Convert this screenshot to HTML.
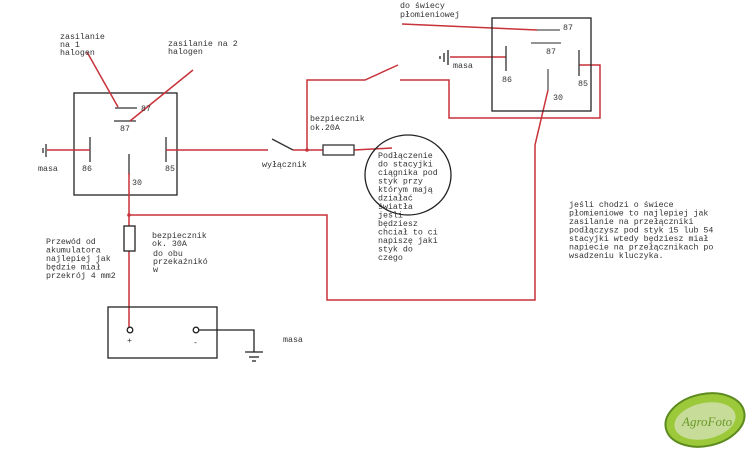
<!DOCTYPE html>
<html><head><meta charset="utf-8"><style>
html,body{margin:0;padding:0;background:#fff;width:750px;height:449px;overflow:hidden}
svg text{font-family:"Liberation Mono",monospace;font-size:8.3px;fill:#333}
</style></head><body>
<svg width="750" height="449" viewBox="0 0 750 449" xmlns="http://www.w3.org/2000/svg">
<g fill="none" stroke-width="1.3">
<!-- left relay -->
<rect x="74" y="93" width="103" height="102" stroke="#222"/>
<line x1="115" y1="108" x2="137" y2="108" stroke="#333"/>
<line x1="114" y1="121" x2="136" y2="121" stroke="#333"/>
<line x1="90" y1="137" x2="90" y2="162" stroke="#333"/>
<line x1="166" y1="137" x2="166" y2="162" stroke="#333"/>
<line x1="129" y1="154" x2="129" y2="175" stroke="#333"/>
<line x1="46" y1="144" x2="46" y2="157" stroke="#333"/>
<line x1="43" y1="148" x2="43" y2="153" stroke="#333"/>
<g stroke="#c8323a" stroke-width="1.5">
<line x1="87" y1="52" x2="118" y2="107"/>
<line x1="193" y1="70" x2="130" y2="121"/>
<line x1="47" y1="150" x2="90" y2="150"/>
<line x1="166" y1="150" x2="268" y2="150"/>
<line x1="293" y1="150" x2="323" y2="150"/>
<line x1="354" y1="150" x2="392" y2="148"/>
<polyline points="307,150 307,80 365,80 398,65"/>
<polyline points="400,80 449,80 449,118 600,118 600,65 579,65"/>
<polyline points="129,173 129,330"/>
<polyline points="129,215 327,215 327,300 535,300 535,145 548,90"/>
<line x1="402" y1="24" x2="537" y2="30"/>
<line x1="450" y1="57" x2="506" y2="57"/>
</g>
<line x1="272" y1="139" x2="293" y2="150" stroke="#333"/>
<rect x="323" y="145" width="31" height="10" stroke="#333"/>
<circle cx="307" cy="150" r="1.8" fill="#c8323a" stroke="none"/>
<circle cx="129" cy="215" r="1.8" fill="#c8323a" stroke="none"/>
<ellipse cx="408" cy="175" rx="43" ry="40" stroke="#222"/>
<!-- right relay -->
<rect x="492" y="18" width="99" height="93" stroke="#222"/>
<line x1="537" y1="30" x2="560" y2="30" stroke="#555"/>
<line x1="531" y1="43" x2="561" y2="43" stroke="#555"/>
<line x1="506" y1="46" x2="506" y2="71" stroke="#333"/>
<line x1="579" y1="50" x2="579" y2="76" stroke="#333"/>
<line x1="548" y1="69" x2="548" y2="90" stroke="#555"/>
<line x1="448" y1="50" x2="448" y2="65" stroke="#222"/>
<line x1="444" y1="53" x2="444" y2="62" stroke="#222"/>
<line x1="440" y1="56" x2="440" y2="59" stroke="#222"/>
<!-- fuse 30A -->
<rect x="124" y="226" width="11" height="25" stroke="#222" fill="#fff"/>
<!-- battery -->
<rect x="108" y="307" width="109" height="51" stroke="#222"/>
<circle cx="130" cy="330" r="2.8" stroke="#222" fill="#fff"/>
<circle cx="196" cy="330" r="2.8" stroke="#222" fill="#fff"/>
<polyline points="199,330 254,330 254,352" stroke="#222"/>
<line x1="245" y1="352" x2="263" y2="352" stroke="#222"/>
<line x1="249" y1="357" x2="259" y2="357" stroke="#222"/>
<line x1="252" y1="361" x2="256" y2="361" stroke="#222"/>
</g>
<text x="60" y="39">zasilanie</text><text x="60" y="47">na 1</text><text x="60" y="55">halogen</text>
<text x="168" y="46">zasilanie na 2</text><text x="168" y="54">halogen</text>
<text x="141" y="111">87</text><text x="120" y="131">87</text>
<text x="38" y="171">masa</text><text x="82" y="171">86</text><text x="165" y="171">85</text><text x="132" y="185">30</text>
<text x="262" y="167">wyłącznik</text>
<text x="310" y="121">bezpiecznik</text><text x="310" y="130">ok.20A</text>
<text x="400" y="8">do świecy</text><text x="400" y="17">płomieniowej</text>
<text x="563" y="30">87</text><text x="546" y="54">87</text>
<text x="453" y="68">masa</text><text x="502" y="82">86</text><text x="578" y="86">85</text><text x="553" y="100">30</text>
<g>
<text x="378" y="158">Podłączenie</text><text x="378" y="166.5">do stacyjki</text><text x="378" y="175">ciągnika pod</text><text x="378" y="183.5">styk przy</text><text x="378" y="192">którym mają</text><text x="378" y="200.5">działać</text><text x="378" y="209">światła</text><text x="378" y="217.5">jeśli</text><text x="378" y="226">będziesz</text><text x="378" y="234.5">chciał to ci</text><text x="378" y="243">napiszę jaki</text><text x="378" y="251.5">styk do</text><text x="378" y="260">czego</text>
</g>
<text x="152" y="238">bezpiecznik</text><text x="152" y="246">ok. 30A</text><text x="153" y="256">do obu</text><text x="153" y="264">przekaźnikó</text><text x="153" y="272">w</text>
<text x="46" y="244">Przewód od</text><text x="46" y="252.5">akumulatora</text><text x="46" y="261">najlepiej jak</text><text x="46" y="269.5">będzie miał</text><text x="46" y="278">przekrój 4 mm2</text>
<text x="127" y="343">+</text><text x="193" y="345">-</text><text x="283" y="342">masa</text>
<text x="569" y="207">jeśli chodzi o świece</text><text x="569" y="215.5">płomieniowe to najlepiej jak</text><text x="569" y="224">zasilanie na przełączniki</text><text x="569" y="232.5">podłączysz pod styk 15 lub 54</text><text x="569" y="241">stacyjki wtedy będziesz miał</text><text x="569" y="249.5">napiecie na przełącznikach po</text><text x="569" y="258">wsadzeniu kluczyka.</text>
<ellipse cx="705" cy="420" rx="40" ry="26" fill="#9bc93a" stroke="#5d8a1e" stroke-width="2" transform="rotate(-12 705 420)"/>
<ellipse cx="705" cy="421" rx="31" ry="18" fill="#c8dc9a" transform="rotate(-12 705 421)"/>
<text x="682" y="426" style="font-family:'Liberation Serif',serif;font-style:italic;font-size:13px;fill:#6a9a2a">AgroFoto</text>
</svg>
</body></html>
